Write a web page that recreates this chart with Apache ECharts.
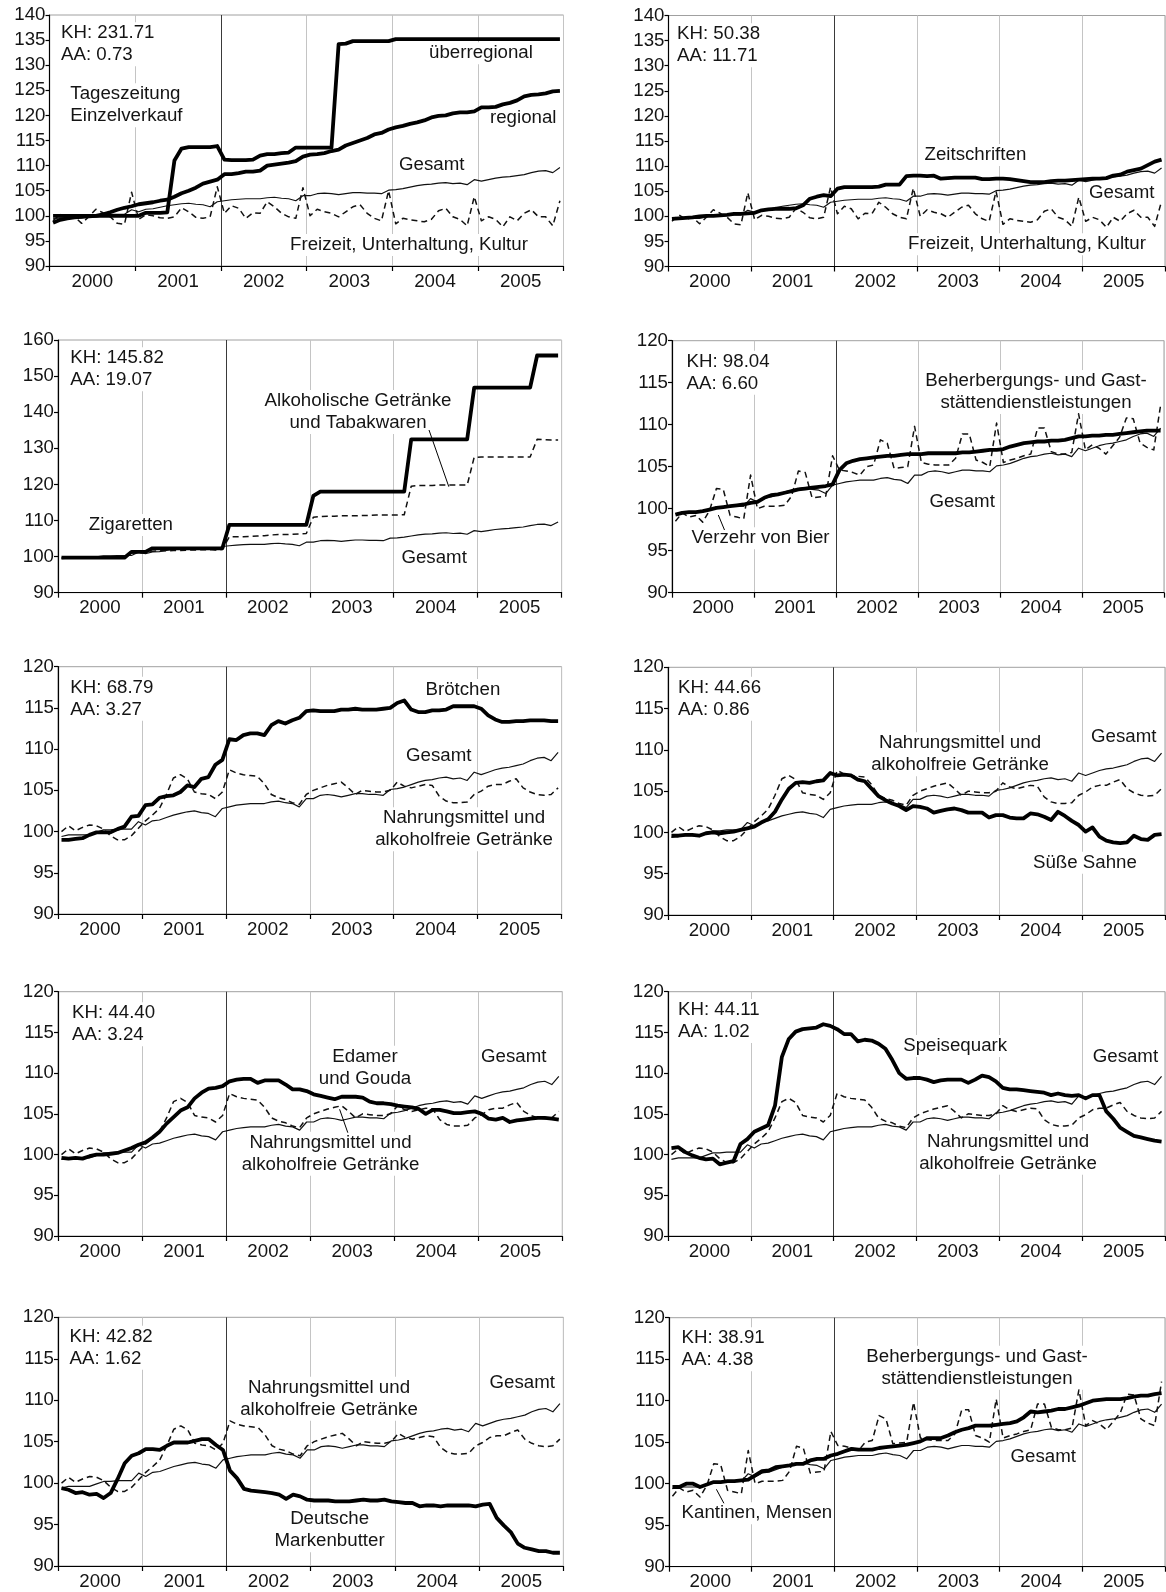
<!DOCTYPE html>
<html>
<head>
<meta charset="utf-8">
<script src="https://cdn.jsdelivr.net/npm/echarts@6/dist/echarts.min.js"></script>
<style>
  html, body { margin: 0; padding: 0; background: #fff; }
  #chart { width: 1166px; height: 1592px; }
</style>
</head>
<body>
<div id="chart"></div>
<script>
// Monthly price indices 2000–2005 (index values), one row per year
const years = ['2000', '2001', '2002', '2003', '2004', '2005'];

const gesamt = [
  99.4, 99.6, 99.6, 99.6, 99.6, 99.9, 100.2, 100.2, 100.3, 100.3, 100.3, 101.2,
  100.8, 101.3, 101.4, 101.7, 102.0, 102.2, 102.4, 102.5, 102.3, 102.2, 101.8, 102.8,
  103.0, 103.2, 103.3, 103.4, 103.4, 103.4, 103.6, 103.7, 103.5, 103.4, 103.0, 104.0,
  104.0, 104.4, 104.5, 104.4, 104.2, 104.4, 104.6, 104.6, 104.5, 104.5, 104.4, 105.1,
  105.2, 105.4, 105.7, 106.0, 106.2, 106.3, 106.5, 106.6, 106.4, 106.5, 106.2, 107.2,
  106.9, 107.2, 107.5, 107.7, 107.8, 108.0, 108.2, 108.6, 108.9, 109.0, 108.6, 109.6
];

const freizeit = [
  99.0, 100.3, 99.4, 99.8, 98.5, 99.8, 101.3, 100.6, 99.8, 98.5, 98.3, 104.7,
  99.3, 100.2, 100.0, 99.6, 99.5, 99.8, 101.6, 100.8, 99.7, 99.5, 99.8, 105.8,
  100.5, 102.0, 101.5, 99.5, 100.6, 100.5, 102.8, 101.8, 100.5, 99.8, 99.5, 105.6,
  100.0, 101.3, 100.8, 100.5, 99.8, 100.8, 101.8, 102.2, 100.5, 99.5, 99.0, 105.0,
  98.4, 99.5, 99.2, 99.0, 98.8, 99.3, 101.0, 101.5, 99.8, 99.3, 98.0, 103.8,
  99.0, 99.8, 99.3, 97.8, 99.8, 99.0, 100.5, 101.2, 99.8, 99.8, 98.0, 103.0
];

const nahrung = [
  100.0, 100.7, 100.1, 100.5, 100.8, 100.7, 100.3, 99.5, 99.0, 99.0, 99.5, 100.4,
  101.3, 102.0, 102.8, 104.5, 106.5, 106.9, 106.4, 104.8, 104.6, 104.5, 104.0, 104.8,
  107.5, 107.1, 106.9, 106.8, 106.7, 105.8, 104.5, 104.1, 103.9, 103.5, 103.3, 104.5,
  105.0, 105.3, 105.6, 105.8, 106.0, 105.3, 104.5, 105.0, 104.9, 104.8, 104.8, 105.0,
  106.0, 105.5, 105.3, 105.5, 105.7, 105.6, 104.3, 103.7, 103.5, 103.5, 103.6, 104.5,
  104.9, 105.5, 105.7, 105.7, 106.1, 106.4, 105.3, 104.8, 104.5, 104.4, 104.5, 105.3
];

const beherbergung = [
  98.5, 99.5, 99.0, 99.2, 98.4, 99.8, 102.4, 102.3, 99.2, 99.0, 98.8, 104.0,
  100.0, 100.3, 100.3, 100.3, 100.4, 101.5, 104.5, 104.3, 101.3, 101.4, 101.5, 106.3,
  104.6, 104.5, 104.3, 104.0, 105.0, 105.2, 108.2, 107.8, 104.8, 104.9, 105.0, 109.8,
  105.5, 105.3, 105.2, 105.2, 105.2, 106.0, 108.9, 108.9, 105.8, 105.5, 105.0, 110.2,
  105.5, 105.8, 106.0, 106.3, 106.5, 109.6, 109.6, 106.8, 106.5, 106.5, 106.7, 111.3,
  107.0, 107.6, 107.2, 106.5, 107.5, 108.5, 110.8, 110.7, 107.8, 107.3, 107.0, 112.3
];

const alkTabak = [
  99.7, 99.7, 99.7, 99.8, 99.8, 99.8, 99.8, 99.8, 99.8, 99.8, 101.0, 101.0,
  101.2, 101.5, 101.6, 101.6, 101.7, 101.7, 101.8, 101.8, 101.9, 101.9, 102.0, 102.0,
  105.5, 105.5, 105.5, 105.6, 105.7, 105.8, 106.0, 106.1, 106.1, 106.2, 106.3, 106.4,
  110.9, 111.1, 111.2, 111.2, 111.3, 111.3, 111.3, 111.4, 111.4, 111.5, 111.5, 111.5,
  111.5, 111.6, 119.5, 119.7, 119.7, 119.7, 119.8, 119.8, 119.8, 119.8, 119.8, 127.5,
  127.6, 127.6, 127.6, 127.6, 127.6, 127.6, 127.6, 127.6, 132.5, 132.4, 132.3, 132.3
];

const tzUeberregional = [
  100.0, 100.0, 100.0, 100.0, 100.0, 100.0, 100.0, 100.0, 100.0, 100.0, 100.0, 100.0,
  100.0, 100.6, 100.6, 100.6, 100.7, 111.0, 113.4, 113.7, 113.7, 113.7, 113.7, 113.9,
  111.2, 111.1, 111.1, 111.1, 111.2, 112.0, 112.3, 112.3, 112.5, 112.6, 113.6, 113.6,
  113.6, 113.6, 113.6, 113.6, 134.2, 134.3, 134.8, 134.8, 134.8, 134.8, 134.8, 134.8,
  135.2, 135.2, 135.2, 135.2, 135.2, 135.2, 135.2, 135.2, 135.2, 135.2, 135.2, 135.2,
  135.2, 135.2, 135.2, 135.2, 135.2, 135.2, 135.2, 135.2, 135.2, 135.2, 135.2, 135.2
];

const tzRegional = [
  98.6, 99.2, 99.5, 99.7, 99.8, 99.9, 100.0, 100.3, 100.7, 101.2, 101.6, 101.9,
  102.3, 102.5, 102.7, 103.0, 103.2, 103.8, 104.5, 105.0, 105.6, 106.4, 106.8, 107.2,
  108.3, 108.3, 108.5, 108.8, 108.8, 109.0, 110.0, 110.2, 110.4, 110.6, 110.9, 111.8,
  112.2, 112.3, 112.5, 112.9, 113.2, 114.0, 114.5, 115.0, 115.5, 116.2, 116.5, 117.2,
  117.6, 117.9, 118.3, 118.6, 119.0, 119.6, 119.9, 120.0, 120.4, 120.6, 120.6, 120.8,
  121.6, 121.6, 121.7, 122.2, 122.5, 123.0, 123.8, 124.1, 124.2, 124.4, 124.8, 124.9
];

const zeitschriften = [
  99.5, 99.6, 99.7, 99.8, 100.0, 100.1, 100.1, 100.2, 100.3, 100.5, 100.5, 100.6,
  100.7, 101.2, 101.4, 101.5, 101.5, 101.5, 101.6, 102.2, 103.5, 103.9, 104.2, 104.0,
  105.5, 105.8, 105.8, 105.8, 105.8, 105.8, 105.9, 106.3, 106.3, 106.3, 108.0, 108.1,
  108.1, 108.0, 108.1, 107.5, 107.6, 107.7, 107.7, 107.7, 107.7, 107.4, 107.4, 107.5,
  107.5, 107.4, 107.2, 107.0, 106.8, 106.8, 106.8, 107.0, 107.1, 107.1, 107.2, 107.3,
  107.4, 107.5, 107.5, 107.6, 108.1, 108.3, 108.9, 109.2, 109.5, 110.2, 110.9, 111.3
];

const zigaretten = [
  99.7, 99.7, 99.7, 99.7, 99.7, 99.7, 99.7, 99.7, 99.7, 99.7, 101.3, 101.3,
  101.3, 102.3, 102.3, 102.3, 102.3, 102.3, 102.3, 102.3, 102.3, 102.3, 102.3, 102.3,
  108.8, 108.8, 108.8, 108.8, 108.8, 108.8, 108.8, 108.8, 108.8, 108.8, 108.8, 108.8,
  116.8, 118.0, 118.0, 118.0, 118.0, 118.0, 118.0, 118.0, 118.0, 118.0, 118.0, 118.0,
  118.0, 118.0, 132.5, 132.5, 132.5, 132.5, 132.5, 132.5, 132.5, 132.5, 132.5, 146.8,
  146.8, 146.8, 146.8, 146.8, 146.8, 146.8, 146.8, 146.8, 155.7, 155.7, 155.7, 155.7
];

const bier = [
  99.3, 99.5, 99.6, 99.6, 99.7, 99.9, 100.1, 100.2, 100.3, 100.4, 100.5, 100.7,
  100.8, 101.3, 101.6, 101.7, 101.9, 102.1, 102.3, 102.4, 102.5, 102.6, 102.7, 102.9,
  104.6, 105.4, 105.7, 105.9, 106.0, 106.1, 106.2, 106.3, 106.3, 106.4, 106.5, 106.5,
  106.5, 106.6, 106.6, 106.6, 106.6, 106.6, 106.7, 106.7, 106.8, 106.9, 107.0, 107.0,
  107.1, 107.4, 107.6, 107.8, 107.9, 108.0, 108.0, 108.1, 108.1, 108.2, 108.4, 108.6,
  108.6, 108.7, 108.7, 108.8, 108.8, 108.9, 109.0, 109.1, 109.2, 109.3, 109.3, 109.3
];

const broetchen = [
  99.0, 99.0, 99.1, 99.2, 99.6, 99.9, 99.9, 99.9, 100.3, 100.6, 101.8, 101.9,
  103.2, 103.3, 104.1, 104.3, 104.4, 104.8, 105.6, 105.4, 106.4, 106.6, 108.1, 108.7,
  111.2, 111.1, 111.7, 111.9, 111.9, 111.7, 112.9, 113.4, 113.1, 113.5, 113.8, 114.6,
  114.7, 114.6, 114.6, 114.6, 114.8, 114.8, 114.9, 114.8, 114.8, 114.8, 114.9, 115.0,
  115.6, 115.9, 114.8, 114.5, 114.5, 114.7, 114.7, 114.8, 115.2, 115.2, 115.2, 115.2,
  114.9, 114.1, 113.6, 113.3, 113.3, 113.4, 113.4, 113.5, 113.5, 113.5, 113.4, 113.4
];

const suesseSahne = [
  99.6, 99.6, 99.7, 99.7, 99.6, 99.9, 100.0, 99.9, 100.0, 100.1, 100.3, 100.5,
  100.7, 101.2, 101.6, 102.5, 104.0, 105.3, 106.0, 106.1, 106.0, 106.2, 106.3, 107.2,
  106.9, 107.0, 106.9, 106.4, 106.2, 105.3, 104.4, 103.9, 103.5, 103.2, 102.7, 103.2,
  103.1, 102.9, 102.4, 102.6, 102.8, 102.9, 102.7, 102.4, 102.4, 102.4, 101.8, 102.1,
  102.1, 101.8, 101.7, 101.7, 102.3, 102.2, 101.9, 101.5, 102.5, 102.0, 101.4, 100.9,
  100.1, 100.6, 99.5, 99.0, 98.8, 98.7, 98.8, 99.6, 99.2, 99.1, 99.7, 99.8
];

const edamer = [
  99.6, 99.5, 99.6, 99.5, 99.8, 100.0, 100.0, 100.1, 100.2, 100.5, 100.8, 101.2,
  101.5, 102.1, 102.8, 103.8, 104.6, 105.4, 105.8, 106.9, 107.6, 108.1, 108.2, 108.4,
  109.0, 109.2, 109.3, 109.3, 108.8, 109.1, 109.1, 109.1, 108.6, 108.0, 108.0, 107.8,
  107.4, 107.2, 107.0, 106.8, 107.1, 107.1, 107.1, 107.0, 106.5, 106.3, 106.3, 106.2,
  106.0, 105.9, 105.8, 105.6, 105.0, 105.5, 105.5, 105.3, 105.1, 105.1, 105.2, 105.3,
  105.0, 104.4, 104.3, 104.5, 104.0, 104.2, 104.3, 104.4, 104.5, 104.5, 104.4, 104.3
];

const speisequark = [
  100.8, 100.9, 100.3, 99.9, 99.6, 99.4, 99.5, 98.8, 99.0, 99.2, 101.3, 101.9,
  102.8, 103.2, 103.6, 106.0, 112.0, 114.2, 115.1, 115.4, 115.5, 115.6, 116.0, 115.8,
  115.4, 114.8, 114.8, 113.9, 114.1, 114.0, 113.6, 113.0, 111.6, 110.0, 109.3, 109.4,
  109.4, 109.2, 108.9, 109.1, 109.2, 109.2, 109.2, 108.8, 109.2, 109.7, 109.5, 109.0,
  108.2, 108.0, 108.0, 107.9, 107.8, 107.7, 107.6, 107.3, 107.5, 107.3, 107.2, 107.3,
  106.9, 107.3, 107.3, 105.3, 104.4, 103.3, 102.8, 102.3, 102.1, 101.9, 101.7, 101.6
];

const markenbutter = [
  99.4, 99.2, 98.8, 98.9, 98.6, 98.7, 98.2, 98.8, 100.5, 102.4, 103.3, 103.6,
  104.1, 104.1, 104.0, 104.5, 104.9, 104.9, 104.9, 105.1, 105.3, 105.3, 104.6, 104.0,
  101.5, 100.6, 99.3, 99.1, 99.0, 98.9, 98.8, 98.6, 98.1, 98.6, 98.4, 98.0,
  97.9, 97.9, 97.9, 97.8, 97.8, 97.8, 97.9, 98.0, 97.9, 97.9, 98.0, 97.8,
  97.7, 97.6, 97.6, 97.2, 97.3, 97.3, 97.2, 97.3, 97.3, 97.3, 97.3, 97.2,
  97.4, 97.5, 95.8, 94.9, 94.1, 92.7, 92.2, 92.0, 91.8, 91.8, 91.6, 91.6
];

const kantinen = [
  99.6, 99.6, 100.0, 100.0, 99.6, 99.9, 100.2, 100.2, 100.3, 100.3, 100.4, 100.5,
  101.0, 101.5, 101.6, 102.0, 102.1, 102.2, 102.4, 102.4, 102.8, 103.0, 103.0, 103.4,
  103.6, 103.9, 104.2, 104.1, 104.1, 104.1, 104.3, 104.4, 104.5, 104.6, 104.7, 104.9,
  105.1, 105.5, 105.5, 105.5, 105.8, 106.2, 106.5, 106.7, 107.0, 107.0, 107.0, 107.1,
  107.2, 107.3, 107.5, 108.0, 108.7, 108.6, 108.7, 108.8, 109.0, 109.0, 109.2, 109.4,
  109.7, 110.0, 110.1, 110.2, 110.2, 110.2, 110.3, 110.5, 110.6, 110.6, 110.8, 110.9
];

// Month categories derived from the year list
const months = [];
years.forEach(y => { for (let m = 1; m <= 12; m++) months.push(y + '-' + String(m).padStart(2, '0')); });

const FONT = 'Liberation Sans';
const FS = 18.7;
const INK = '#141414';

// Line styles: thick item line, thin overall index, dashed reference group
const STYLES = {
  thick: { color: '#000', width: 3.8, type: 'solid' },
  thin:  { color: '#111', width: 1.2, type: 'solid' },
  dash:  { color: '#111', width: 1.5, type: [6, 4] }
};

// Panel layout: box = [left, top, width, height]
const panels = [
  { box: [49.5, 15, 514, 251], y: [90, 140, 5],
    lines: [[freizeit, 'dash'], [gesamt, 'thin'], [tzRegional, 'thick'], [tzUeberregional, 'thick']] },
  { box: [668.5, 15.5, 496.5, 251], y: [90, 140, 5],
    lines: [[freizeit, 'dash'], [gesamt, 'thin'], [zeitschriften, 'thick']] },
  { box: [58, 340, 503.6, 252.7], y: [90, 160, 10],
    lines: [[alkTabak, 'dash'], [gesamt, 'thin'], [zigaretten, 'thick']] },
  { box: [672, 340.7, 492, 252], y: [90, 120, 5],
    lines: [[beherbergung, 'dash'], [gesamt, 'thin'], [bier, 'thick']] },
  { box: [58, 666.7, 503.6, 247.3], y: [90, 120, 5],
    lines: [[nahrung, 'dash'], [gesamt, 'thin'], [broetchen, 'thick']] },
  { box: [668, 667.3, 497, 247.7], y: [90, 120, 5],
    lines: [[nahrung, 'dash'], [gesamt, 'thin'], [suesseSahne, 'thick']] },
  { box: [58, 991.7, 504.3, 244.3], y: [90, 120, 5],
    lines: [[nahrung, 'dash'], [gesamt, 'thin'], [edamer, 'thick']] },
  { box: [668, 991.7, 497, 244.3], y: [90, 120, 5],
    lines: [[nahrung, 'dash'], [gesamt, 'thin'], [speisequark, 'thick']] },
  { box: [58, 1317.3, 505.4, 248.7], y: [90, 120, 5],
    lines: [[nahrung, 'dash'], [gesamt, 'thin'], [markenbutter, 'thick']] },
  { box: [669, 1317.7, 496, 249], y: [90, 120, 5],
    lines: [[beherbergung, 'dash'], [gesamt, 'thin'], [kantinen, 'thick']] }
];

// Year separators: light grey, the start of 2002 marked dark
const sepColors = ['#000', '#c4c4c4', '#3a3a3a', '#c4c4c4', '#c4c4c4', '#c4c4c4', '#c4c4c4'];

const grid = [], xAxis = [], yAxis = [], series = [];
panels.forEach((p, k) => {
  grid.push({
    left: p.box[0], top: p.box[1], width: p.box[2], height: p.box[3],
    show: true, borderColor: '#a0a0a0', borderWidth: 1, backgroundColor: 'transparent'
  });
  // visible year axis (labels, ticks, separators)
  xAxis.push({
    gridIndex: k, type: 'category', data: years, position: 'bottom', boundaryGap: true,
    axisLine: { show: true, onZero: false, lineStyle: { color: '#000', width: 1.2 } },
    axisTick: { show: true, interval: 0, length: 5, lineStyle: { color: '#000', width: 1.2 } },
    axisLabel: { interval: 0, margin: 6, color: INK, fontFamily: FONT, fontSize: FS },
    splitLine: { show: true, interval: 0, lineStyle: { color: sepColors, width: 1 } }
  });
  // hidden month axis carrying the data
  xAxis.push({ gridIndex: k, type: 'category', data: months, position: 'top', boundaryGap: true, show: false });
  yAxis.push({
    gridIndex: k, type: 'value', min: p.y[0], max: p.y[1], interval: p.y[2],
    axisLine: { show: true, lineStyle: { color: '#000', width: 1.2 } },
    axisTick: { show: true, length: 4, lineStyle: { color: '#000', width: 1.2 } },
    axisLabel: { margin: 4, color: INK, fontFamily: FONT, fontSize: FS },
    splitLine: { show: false }
  });
  p.lines.forEach(([data, st]) => {
    const s = STYLES[st];
    series.push({
      type: 'line', xAxisIndex: 2 * k + 1, yAxisIndex: k, data: data,
      symbol: 'none', smooth: false, animation: false, silent: true,
      z: st === 'thick' ? 4 : 3,
      lineStyle: { color: s.color, width: s.width, type: s.type, join: 'round', cap: 'butt' }
    });
  });
});

// Annotations: [text, x, y of first line centre, align]
const notes = [
  ['KH: 231.71\nAA: 0.73', 61, 33.3, 'left'],
  ['Tageszeitung\nEinzelverkauf', 70.3, 94.3, 'left'],
  ['überregional', 429, 53.3, 'left'],
  ['regional', 490, 118.3, 'left'],
  ['Gesamt', 399, 165, 'left'],
  ['Freizeit, Unterhaltung, Kultur', 290, 245, 'left'],

  ['KH: 50.38\nAA: 11.71', 677, 34.3, 'left'],
  ['Zeitschriften', 924.5, 155, 'left'],
  ['Gesamt', 1089, 193.3, 'left'],
  ['Freizeit, Unterhaltung, Kultur', 908, 244.3, 'left'],

  ['KH: 145.82\nAA: 19.07', 70.3, 358.3, 'left'],
  ['Alkoholische Getränke\nund Tabakwaren', 358, 401, 'center'],
  ['Zigaretten', 88.8, 525, 'left'],
  ['Gesamt', 401.4, 558.3, 'left'],

  ['KH: 98.04\nAA: 6.60', 686.5, 361.7, 'left'],
  ['Beherbergungs- und Gast-\nstättendienstleistungen', 1036, 381, 'center'],
  ['Gesamt', 929.4, 501.7, 'left'],
  ['Verzehr von Bier', 691.4, 538.3, 'left'],

  ['KH: 68.79\nAA: 3.27', 70.3, 687.7, 'left'],
  ['Brötchen', 425.5, 690, 'left'],
  ['Gesamt', 406, 756, 'left'],
  ['Nahrungsmittel und\nalkoholfreie Getränke', 464, 818.3, 'center'],

  ['KH: 44.66\nAA: 0.86', 678, 687.7, 'left'],
  ['Nahrungsmittel und\nalkoholfreie Getränke', 960, 743.3, 'center'],
  ['Gesamt', 1091, 737.3, 'left'],
  ['Süße Sahne', 1033, 862.7, 'left'],

  ['KH: 44.40\nAA: 3.24', 72, 1013.3, 'left'],
  ['Edamer\nund Gouda', 365, 1056.7, 'center'],
  ['Gesamt', 481, 1056.7, 'left'],
  ['Nahrungsmittel und\nalkoholfreie Getränke', 330.5, 1142.7, 'center'],

  ['KH: 44.11\nAA: 1.02', 678, 1010, 'left'],
  ['Speisequark', 903.2, 1046, 'left'],
  ['Gesamt', 1092.7, 1057.3, 'left'],
  ['Nahrungsmittel und\nalkoholfreie Getränke', 1008, 1141.7, 'center'],

  ['KH: 42.82\nAA: 1.62', 69.6, 1336.7, 'left'],
  ['Nahrungsmittel und\nalkoholfreie Getränke', 329, 1387.7, 'center'],
  ['Gesamt', 489.5, 1383.3, 'left'],
  ['Deutsche\nMarkenbutter', 329.6, 1519.3, 'center'],

  ['KH: 38.91\nAA: 4.38', 681.6, 1338.3, 'left'],
  ['Beherbergungs- und Gast-\nstättendienstleistungen', 977, 1356.7, 'center'],
  ['Gesamt', 1010.5, 1457.3, 'left'],
  ['Kantinen, Mensen', 681.6, 1513.3, 'left']
];

// Leader lines from a label to its curve
const leaders = [
  [429, 430, 448.8, 486.7],
  [718.3, 515, 724.5, 530],
  [339.6, 1109.3, 347.8, 1132.7],
  [716.4, 1489.3, 723.9, 1503.3]
];

const LH = 22;
const graphic = [];
notes.forEach(([t, x, y, align]) => {
  graphic.push({
    type: 'text', z: 1, silent: true,
    style: {
      text: t, x: x, y: y - LH / 2, align: align, verticalAlign: 'top',
      font: FS + 'px "' + FONT + '", Arial, sans-serif', fill: INK,
      lineHeight: LH, backgroundColor: '#fff'
    }
  });
});
leaders.forEach(([x1, y1, x2, y2]) => {
  graphic.push({
    type: 'line', z: 5, silent: true,
    shape: { x1: x1, y1: y1, x2: x2, y2: y2 },
    style: { stroke: '#000', lineWidth: 1 }
  });
});

const chart = echarts.init(document.getElementById('chart'), null, { renderer: 'canvas' });
chart.setOption({
  animation: false,
  backgroundColor: '#fff',
  textStyle: { fontFamily: FONT },
  grid: grid,
  xAxis: xAxis,
  yAxis: yAxis,
  series: series,
  graphic: graphic
});
</script>
</body>
</html>
